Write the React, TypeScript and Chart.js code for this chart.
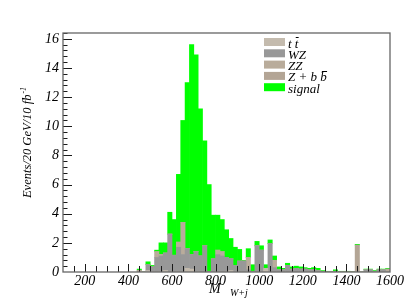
import React, { useEffect, useRef } from "react";
import { Chart, registerables } from "chart.js";
Chart.register(...registerables);

// Lower edges of the 20 GeV bins that carry events
const BIN_LOW = [
  440, 460, 480, 500, 520, 540, 560, 580, 600, 620,
  640, 660, 680, 700, 720, 740, 760, 780, 800, 820,
  840, 860, 880, 900, 920, 940, 960, 980, 1000, 1020,
  1040, 1060, 1080, 1100, 1120, 1140, 1160, 1180, 1200, 1220,
  1240, 1260, 1280, 1300, 1320, 1340, 1360, 1380, 1400, 1420,
  1440, 1460, 1480, 1500, 1520, 1540, 1560, 1580,
];
const BIN_WIDTH = 20;

const TTBAR = [
  0, 0, 0.1, 0, 0, 0, 0.1, 0, 0, 0,
  0, 0.25, 0.2, 0, 0, 0, 0, 0, 0, 0,
  0, 0.1, 0, 0, 0, 0, 0, 0, 0, 0.25,
  0, 0, 0, 0, 0, 0, 0, 0, 0, 0,
  0, 0, 0, 0, 0, 0, 0, 0, 0, 0,
  0, 0, 0, 0, 0, 0, 0, 0,
];
const WZ = [
  0, 0, 0.4, 0.35, 1.0, 1.1, 1.2, 2.6, 1.15, 1.7,
  1.2, 1.35, 1.0, 1.4, 1.1, 1.8, 0.05, 0.9, 1.2, 1.1,
  1.0, 0.8, 0.45, 0.75, 0.75, 0.15, 0.05, 1.8, 1.5, 0,
  1.95, 0.3, 0.15, 0.15, 0.45, 0.15, 0.25, 0.2, 0.2, 0.15,
  0.15, 0.1, 0.05, 0, 0.03, 0.05, 0, 0, 0, 0,
  0, 0, 0.15, 0.15, 0.05, 0.15, 0.15, 0,
];
const ZZ = [
  0, 0, 0, 0, 0.4, 0.1, 0, 0, 0, 0.35,
  2.2, 0, 0, 0, 0, 0, 0, 0, 0.3, 0.3,
  0, 0, 0, 0, 0, 0.85, 0, 0, 0, 0,
  0, 0.5, 0, 0, 0, 0.05, 0, 0, 0, 0,
  0, 0, 0, 0, 0, 0, 0, 0, 0, 0,
  0, 0, 0, 0, 0, 0, 0, 0.2,
];
const ZBB = [
  0.12, 0, 0, 0, 0, 0, 0, 0, 0, 0,
  0, 0, 0, 0, 0, 0, 0, 0, 0, 0,
  0, 0, 0, 0, 0, 0, 0, 0, 0, 0,
  0, 0, 0, 0, 0, 0, 0, 0, 0, 0,
  0, 0, 0, 0, 0, 0, 0, 0, 0, 0,
  1.85, 0, 0, 0, 0, 0, 0, 0,
];
const SIGNAL = [
  0.08, 0, 0.2, 0.1, 0.1, 0.8, 0.7, 1.5, 2.45, 4.65,
  7.0, 11.4, 14.4, 13.5, 10.1, 7.2, 5.95, 3.0, 2.4, 2.2,
  1.9, 1.4, 1.25, 0.8, 0.05, 0.6, 0.45, 0.3, 0.3, 0.25,
  0.25, 0.3, 0.2, 0.1, 0.15, 0.15, 0.15, 0.15, 0.1, 0.1,
  0.15, 0.15, 0.05, 0.05, 0.02, 0.1, 0.05, 0.05, 0.05, 0.02,
  0.05, 0, 0.05, 0.05, 0.05, 0.05, 0.05, 0.05,
];

const SERIES_LABELS = ["t t\u0304", "WZ", "ZZ", "Z + b b\u0304", "signal"];
const SERIES_COLORS = ["#c4bbae", "#989898", "#b9ac9b", "#b3a595", "#00ff00"];

const X_TICK_LABELS = [200, 400, 600, 800, 1000, 1200, 1400, 1600];
const Y_TICK_LABELS = [0, 2, 4, 6, 8, 10, 12, 14, 16];
const X_MIN = 100;
const X_MAX = 1600;
const Y_MAX = 16.4;
const X_MINOR_STEP = 50;
const Y_MINOR_STEP = 0.4;

const SERIF = "'Liberation Serif', 'DejaVu Serif', serif";

function drawOverlined(ctx: CanvasRenderingContext2D, text: string, x: number, y: number, size: number) {
  let cx = x;
  const chars = Array.from(text);
  for (let i = 0; i < chars.length; i++) {
    const ch = chars[i];
    if (ch === "\u0304") continue;
    ctx.fillText(ch, cx, y);
    const w = ctx.measureText(ch).width;
    if (chars[i + 1] === "\u0304") {
      ctx.save();
      ctx.lineWidth = 1;
      ctx.strokeStyle = "#000";
      ctx.beginPath();
      const ly = Math.round(y - size * 0.82) + 0.5;
      ctx.moveTo(cx + w * 0.25, ly);
      ctx.lineTo(cx + w * 1.05, ly);
      ctx.stroke();
      ctx.restore();
    }
    cx += w;
  }
}

const decorPlugin = {
  id: "decor",
  afterDatasetsDraw(chart: any) {
    const { ctx, chartArea: a } = chart;
    const xs = chart.scales.x;
    const ys = chart.scales.y;
    ctx.save();
    ctx.strokeStyle = "#1a1a1a";
    ctx.lineWidth = 1;
    ctx.beginPath();
    for (let v = X_MIN + X_MINOR_STEP; v < X_MAX; v += X_MINOR_STEP) {
      const px = Math.round(xs.getPixelForValue(v)) + 0.5;
      const len = X_TICK_LABELS.includes(v) ? 8 : 6;
      ctx.moveTo(px, a.bottom);
      ctx.lineTo(px, a.bottom - len);
    }
    const nY = Math.round(Y_MAX / Y_MINOR_STEP);
    for (let k = 1; k <= nY; k++) {
      const v = k * Y_MINOR_STEP;
      const py = Math.round(ys.getPixelForValue(v)) + 0.5;
      const len = k % 5 === 0 ? 9 : 4.5;
      ctx.moveTo(a.left, py);
      ctx.lineTo(a.left + len, py);
    }
    ctx.stroke();
    ctx.strokeStyle = "#666";
    ctx.lineWidth = 1.3;
    ctx.strokeRect(a.left, a.top, a.right - a.left, a.bottom - a.top);
    ctx.restore();
  },
  afterDraw(chart: any) {
    const { ctx, chartArea: a } = chart;
    ctx.save();
    ctx.fillStyle = "#000";
    ctx.textBaseline = "alphabetic";
    ctx.textAlign = "left";

    // x title: M_{W+j}
    ctx.font = `italic 14px ${SERIF}`;
    ctx.fillText("M", 209, 293);
    ctx.font = `italic 10px ${SERIF}`;
    ctx.fillText("W+j", 230, 296);

    // y title
    ctx.save();
    ctx.translate(27, 143);
    ctx.rotate(-Math.PI / 2);
    ctx.font = `italic 12.5px ${SERIF}`;
    const main = "Events/20 GeV/10 fb";
    const wMain = ctx.measureText(main).width;
    ctx.font = `italic 8px ${SERIF}`;
    const sup = "-1";
    const wSup = ctx.measureText(sup).width;
    const start = -(wMain + wSup) / 2;
    ctx.font = `italic 12.5px ${SERIF}`;
    ctx.fillText(main, start, 4);
    ctx.font = `italic 8px ${SERIF}`;
    ctx.fillText(sup, start + wMain + 1, -1);
    ctx.restore();

    // legend
    const lx = a.left + 201;
    const ly0 = a.top + 5;
    const step = 11.3;
    chart.data.datasets.forEach((ds: any, i: number) => {
      const y = ly0 + i * step;
      ctx.fillStyle = ds.backgroundColor;
      ctx.fillRect(lx, y, 21, 8);
      ctx.fillStyle = "#000";
      ctx.font = `italic 13px ${SERIF}`;
      drawOverlined(ctx, ds.label, lx + 24, y + 9.5, 13);
    });
    ctx.restore();
  },
};

export default function App() {
  const ref = useRef<HTMLCanvasElement | null>(null);
  useEffect(() => {
    if (!ref.current) return;
    const series = [TTBAR, WZ, ZZ, ZBB, SIGNAL];
    const chart = new Chart(ref.current, {
      type: "bar",
      data: {
        datasets: series.map((vals, si) => ({
          label: SERIES_LABELS[si],
          data: BIN_LOW.map((lo, i) => ({ x: lo + BIN_WIDTH / 2, y: vals[i] })),
          backgroundColor: SERIES_COLORS[si],
          borderWidth: 0,
          barPercentage: 1,
          categoryPercentage: 1,
        })),
      },
      options: {
        responsive: false,
        animation: false,
        events: [],
        layout: { padding: { top: 33, right: 25, left: 0, bottom: 0 } },
        plugins: { legend: { display: false }, tooltip: { enabled: false } },
        scales: {
          x: {
            type: "linear",
            min: X_MIN,
            max: X_MAX,
            stacked: true,
            offset: false,
            grid: { display: false, drawTicks: false, offset: false },
            border: { display: false },
            afterBuildTicks: (s: any) => {
              s.ticks = X_TICK_LABELS.map((v) => ({ value: v }));
            },
            afterFit: (s: any) => {
              s.height = 33;
            },
            ticks: {
              autoSkip: false,
              maxRotation: 0,
              padding: 1,
              color: "#000",
              font: { family: SERIF, style: "italic", size: 14 },
              callback: (v: any) => String(v),
            },
          },
          y: {
            type: "linear",
            min: 0,
            max: Y_MAX,
            stacked: true,
            grid: { display: false, drawTicks: false },
            border: { display: false },
            afterBuildTicks: (s: any) => {
              s.ticks = Y_TICK_LABELS.map((v) => ({ value: v }));
            },
            afterFit: (s: any) => {
              s.width = 63;
            },
            ticks: {
              padding: 4,
              color: "#000",
              font: { family: SERIF, style: "italic", size: 14 },
              callback: (v: any) => String(v),
            },
          },
        },
      },
      plugins: [decorPlugin],
    } as any);
    return () => chart.destroy();
  }, []);
  return (
    <div style={{ position: "fixed", left: 0, top: 0, width: 415, height: 305, background: "#fff" }}>
      <canvas ref={ref} width={415} height={305} style={{ width: 415, height: 305, display: "block" }} />
    </div>
  );
}
